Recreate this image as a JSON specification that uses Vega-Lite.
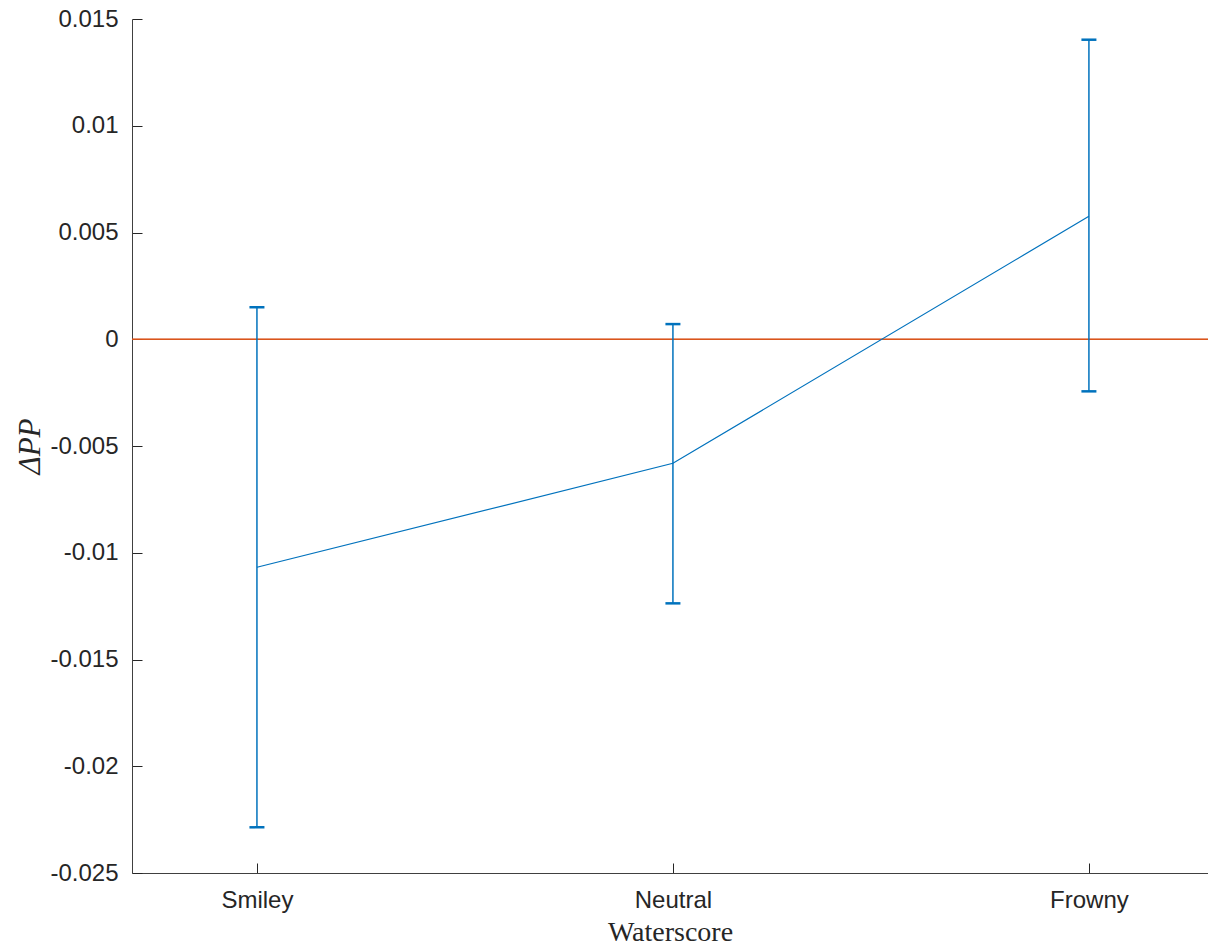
{
  "$schema": "https://vega.github.io/schema/vega-lite/v6.json",
  "autosize": {"type": "none"},
  "padding": {"left": 132, "top": 19, "right": 0, "bottom": 72},
  "width": 1076,
  "height": 854,
  "background": "white",
  "data": {
    "values": [
      {"score": "Smiley", "mean": -0.01068, "lower": -0.02286, "upper": 0.00150},
      {"score": "Neutral", "mean": -0.00581, "lower": -0.01237, "upper": 0.00071},
      {"score": "Frowny", "mean": 0.00576, "lower": -0.00244, "upper": 0.01403}
    ]
  },
  "config": {
    "view": {"stroke": null},
    "axis": {
      "domainColor": "#404040",
      "domainWidth": 1,
      "tickColor": "#262626",
      "tickWidth": 1,
      "tickSize": -10,
      "labelFont": "Liberation Sans",
      "labelFontSize": 24,
      "labelColor": "#262626",
      "titleColor": "#262626",
      "titleFontWeight": "normal",
      "grid": false
    }
  },
  "encoding": {
    "x": {
      "field": "score",
      "type": "nominal",
      "sort": ["Smiley", "Neutral", "Frowny"],
      "scale": {"type": "point", "padding": 0.2933, "align": 0.512},
      "axis": {
        "title": "Waterscore",
        "titleFont": "Liberation Serif",
        "titleFontSize": 28,
        "titleBaseline": "alphabetic",
        "titleY": 67,
        "labelAngle": 0,
        "labelPadding": 25
      }
    }
  },
  "layer": [
    {
      "mark": {"type": "rule", "color": "#D95319", "strokeWidth": 1},
      "encoding": {"x": null, "y": {"datum": 0, "type": "quantitative"}}
    },
    {
      "mark": {"type": "line", "color": "#0072BD", "strokeWidth": 1.2},
      "encoding": {
        "y": {
          "field": "mean",
          "type": "quantitative",
          "scale": {"domain": [-0.025, 0.015], "nice": false, "zero": false},
          "axis": {
            "title": "ΔPP",
            "titleFont": "Liberation Serif",
            "titleFontStyle": "italic",
            "titleFontSize": 31,
            "titleX": -102,
            "titleBaseline": "middle",
            "values": [-0.025, -0.02, -0.015, -0.01, -0.005, 0, 0.005, 0.01, 0.015],
            "labelExpr": "toString(datum.value)",
            "labelPadding": 24
          }
        }
      }
    },
    {
      "mark": {"type": "rule", "color": "#0072BD", "strokeWidth": 1.5},
      "encoding": {
        "y": {"field": "lower", "type": "quantitative"},
        "y2": {"field": "upper"}
      }
    },
    {
      "mark": {"type": "tick", "orient": "horizontal", "color": "#0072BD", "size": 15, "thickness": 2.5, "opacity": 1},
      "encoding": {"y": {"field": "upper", "type": "quantitative"}}
    },
    {
      "mark": {"type": "tick", "orient": "horizontal", "color": "#0072BD", "size": 15, "thickness": 2.5, "opacity": 1},
      "encoding": {"y": {"field": "lower", "type": "quantitative"}}
    }
  ]
}
